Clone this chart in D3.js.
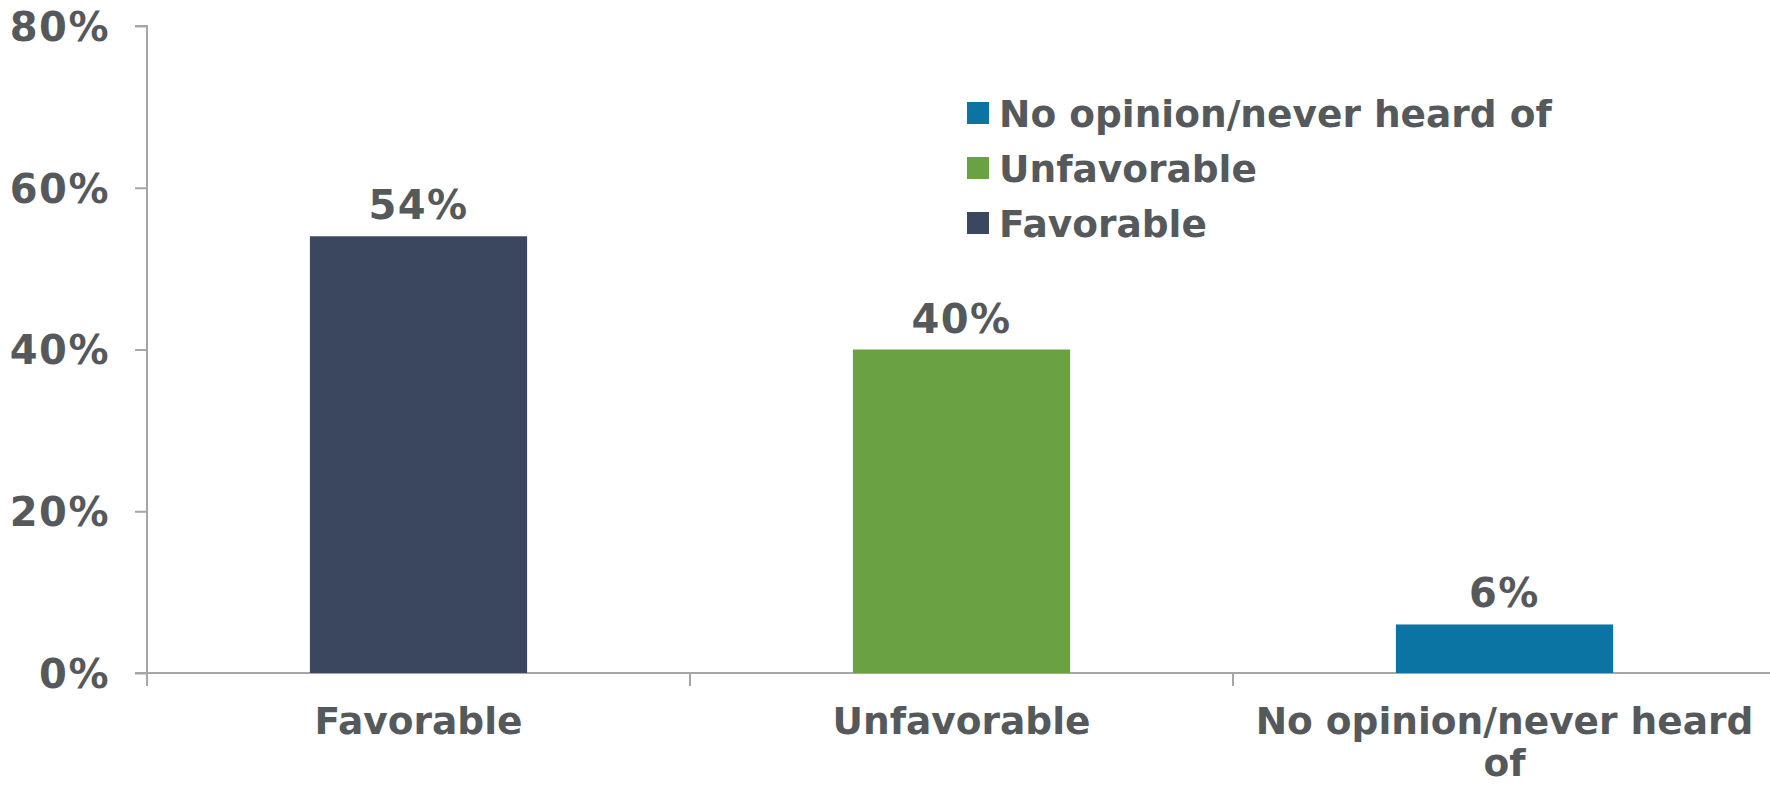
<!DOCTYPE html>
<html>
<head>
<meta charset="utf-8">
<script src="https://cdn.jsdelivr.net/npm/d3@7"></script>
<style>
  html, body { margin: 0; padding: 0; background: #ffffff; }
  svg { display: block; }
  text { font-family: "DejaVu Sans", Verdana, sans-serif; font-weight: bold; fill: #55595c; }
</style>
</head>
<body>
<svg id="chart" width="1770" height="785"></svg>
<script>
// ---- data ----
const categories = ["Favorable", "Unfavorable", "No opinion/never heard of"];
const values = [0.54, 0.40, 0.06];
const colors = ["#3b465f", "#6aa142", "#0c74a2"];
const yTicks = [0, 0.2, 0.4, 0.6, 0.8];
const legendOrder = ["No opinion/never heard of", "Unfavorable", "Favorable"];

// ---- layout ----
const W = 1770, H = 785;
const plotLeft = 147, plotRight = 1776, plotTop = 26, plotBottom = 673;
const fontSize = 38;
const pctSize = 40;

const svg = d3.select("#chart");

const x = d3.scaleBand().domain(categories).range([plotLeft, plotRight])
  .paddingInner(0.6).paddingOuter(0.3);
const y = d3.scaleLinear().domain([0, 0.8]).range([plotBottom, plotTop]);
const color = d3.scaleOrdinal().domain(categories).range(colors);

// y axis
const yAxis = svg.append("g").attr("transform", `translate(${plotLeft},0)`)
  .call(d3.axisLeft(y).tickValues(yTicks).tickFormat(d3.format(".0%"))
    .tickSize(12).tickPadding(25));
yAxis.select(".domain").attr("stroke", "#a6a6a6").attr("stroke-width", 2)
  .attr("d", `M-12,${plotTop}H0V${plotBottom + 13}`);
yAxis.selectAll(".tick line").attr("stroke", "#a6a6a6").attr("stroke-width", 2);
yAxis.selectAll(".tick text").style("font-size", pctSize + "px")
  .style("font-family", "'DejaVu Sans', Verdana, sans-serif").style("font-weight", "bold")
  .style("letter-spacing", "1.5px")
  .attr("fill", "#55595c").attr("dy", "0.36em");

// x axis baseline + boundary ticks
const step = x.step();
const boundaries = d3.range(categories.length + 1).map(i => plotLeft + i * step);
svg.append("line").attr("x1", plotLeft - 12).attr("x2", W).attr("y1", y(0)).attr("y2", y(0))
  .attr("stroke", "#a6a6a6").attr("stroke-width", 2);
svg.append("g").selectAll("line").data(boundaries).join("line")
  .attr("x1", d => d).attr("x2", d => d).attr("y1", y(0)).attr("y2", y(0) + 13)
  .attr("stroke", "#a6a6a6").attr("stroke-width", 2);

// bars
svg.append("g").selectAll("rect").data(categories).join("rect")
  .attr("x", d => x(d)).attr("width", x.bandwidth())
  .attr("y", (d, i) => y(values[i])).attr("height", (d, i) => y(0) - y(values[i]))
  .attr("fill", d => color(d));

// value labels
svg.append("g").selectAll("text").data(categories).join("text")
  .attr("x", d => x(d) + x.bandwidth() / 2)
  .attr("y", (d, i) => y(values[i]) - 17)
  .attr("text-anchor", "middle").style("font-size", pctSize + "px")
  .style("letter-spacing", "1.5px")
  .text((d, i) => d3.format(".0%")(values[i]));

// category labels (wrapped to the band step)
const catG = svg.append("g");
categories.forEach(c => {
  const cx = x(c) + x.bandwidth() / 2;
  const t = catG.append("text").attr("x", cx).attr("y", 734)
    .attr("text-anchor", "middle").style("font-size", "37.5px");
  const words = c.split(" ");
  let line = [];
  let tspan = t.append("tspan").attr("x", cx).attr("dy", 0);
  words.forEach(w => {
    line.push(w);
    tspan.text(line.join(" "));
    if (tspan.node().getComputedTextLength() > step && line.length > 1) {
      line.pop();
      tspan.text(line.join(" "));
      line = [w];
      tspan = t.append("tspan").attr("x", cx).attr("dy", 42).text(w);
    }
  });
});

// legend
const legend = svg.append("g").attr("transform", "translate(967,113)");
legendOrder.forEach((c, i) => {
  const g = legend.append("g").attr("transform", `translate(0,${i * 55})`);
  g.append("rect").attr("x", 0).attr("y", -11).attr("width", 22).attr("height", 22)
    .attr("fill", color(c));
  g.append("text").attr("x", 32).attr("y", 14).style("font-size", "37.5px").text(c);
});
</script>
</body>
</html>
